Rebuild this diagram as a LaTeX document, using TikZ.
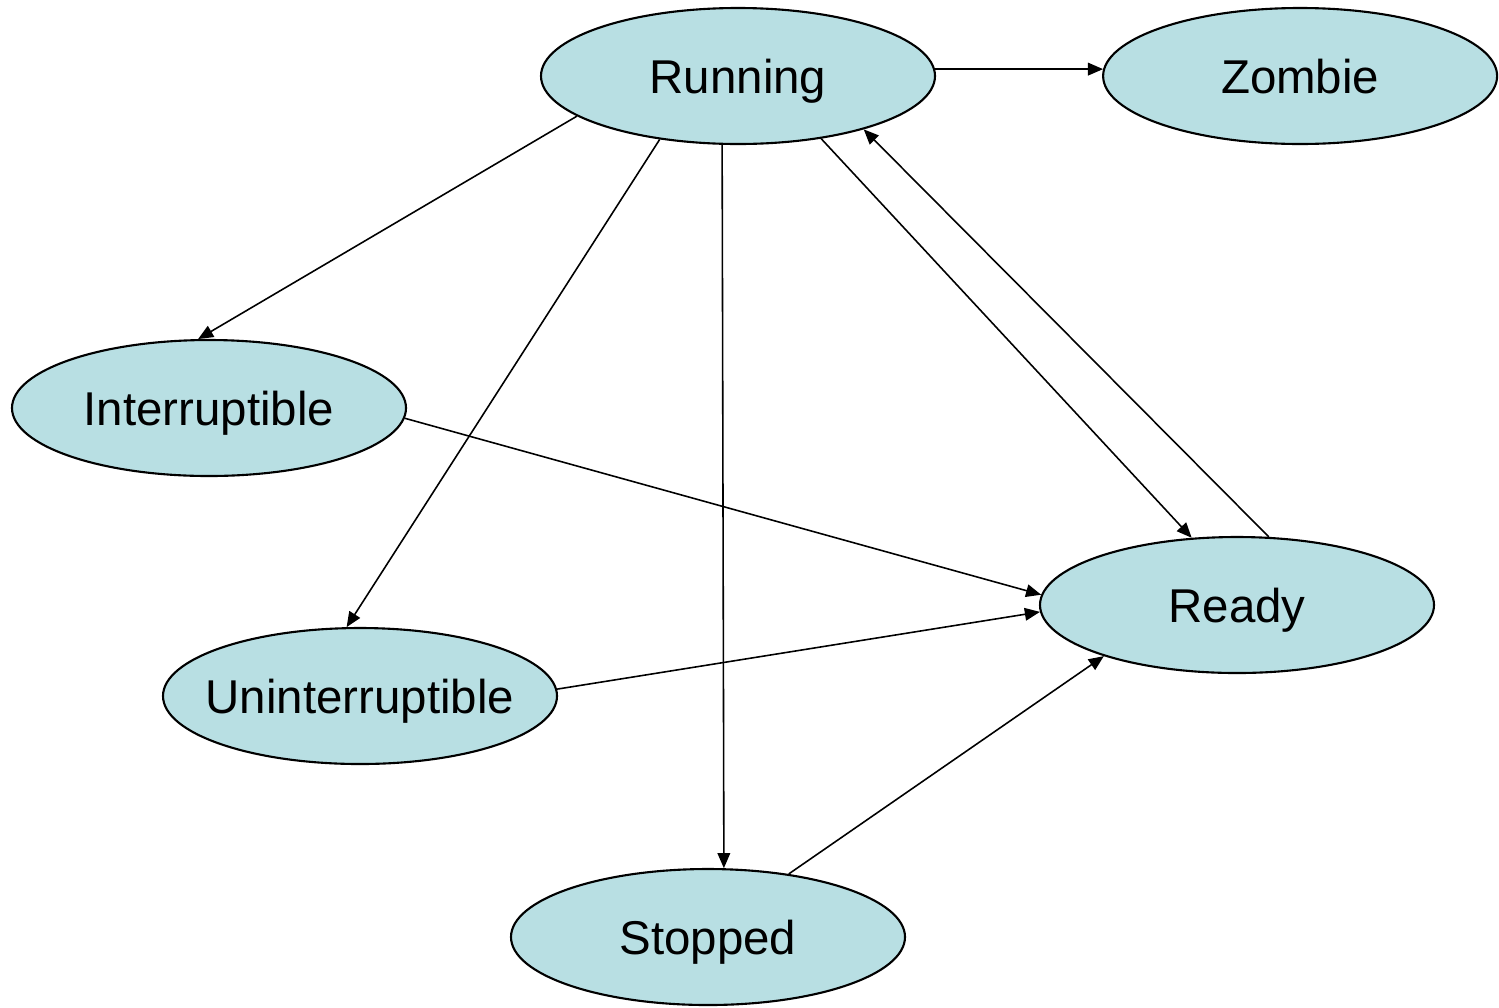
\documentclass[tikz,border=0pt]{standalone}
\usepackage{fontspec}
\setmainfont{Liberation Sans}
\usepackage{tikz}
\usetikzlibrary{arrows.meta,positioning,shapes}

\definecolor{statefill}{HTML}{B8DFE3}

\begin{document}
\begin{tikzpicture}[
    state/.style = {ellipse, draw=black, line width=0.6pt, fill=statefill,
                    minimum width=3.94cm, minimum height=1.36cm, inner sep=0pt,
                    text depth=0pt, font=\fontsize{13.5}{16}\selectfont},
    arrow/.style = {-{Triangle[length=4.3pt,width=3.6pt]}, line width=0.45pt, black}
  ]
    \useasboundingbox (0,0) rectangle (14.99,-10.07);
    \node[state] (run)  at (7.38,-0.76) {Running};
    \node[state, right=1.66cm of run] (zom) {Zombie};
    \node[state] (intr) at (2.09,-4.08) {Interruptible};
    \node[state] (rdy)  at (12.37,-6.05) {Ready};
    \node[state, inner xsep=-3mm] (unin) at (3.60,-6.96) {Uninterruptible};
    \node[state] (stp)  at (7.08,-9.37) {Stopped};
    \draw[arrow] (run.2) -- (zom.178);
    \draw[arrow] (run.194) -- (intr.99);
    \draw[arrow] (run.219) -- (unin.101);
    \draw[arrow] (run.257.6) -- (stp.77.6);
    \draw[arrow] (run.323) -- (rdy.124);
    \draw[arrow] (rdy.65.5) -- (run.337.3);
    \draw[arrow] (intr.357.7) -- (rdy.177.7);
    \draw[arrow] (unin.2.3) -- (rdy.182.3);
    \draw[arrow] (stp.38.5) -- (rdy.201.3);
  \end{tikzpicture}
\end{document}
